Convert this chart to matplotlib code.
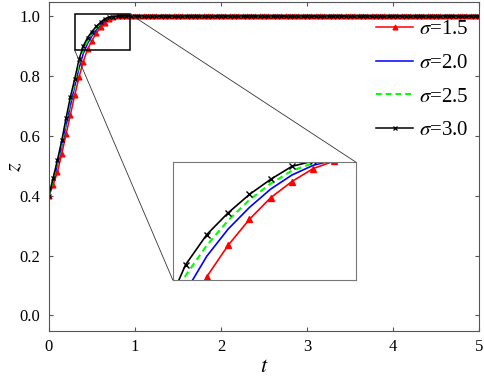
import numpy as np
import matplotlib.pyplot as plt
from matplotlib.patches import Rectangle, ConnectionPatch

plt.rcParams['font.family'] = 'serif'
plt.rcParams['font.serif'] = ['Liberation Serif', 'DejaVu Serif']
plt.rcParams['mathtext.fontset'] = 'stix'

# time grid, step 0.05 from 0 to 5
t = np.round(np.arange(0, 5.0001, 0.05), 2)

# values read for t = 0, 0.05, ..., 0.85; the curves sit at 1.0 after that
z_s15 = [0.400, 0.435, 0.480, 0.540, 0.605, 0.670, 0.735, 0.795, 0.848, 0.889,
         0.918, 0.942, 0.962, 0.977, 0.989, 0.996, 0.999, 1.000]
z_s20 = [0.400, 0.450, 0.505, 0.565, 0.635, 0.700, 0.765, 0.825, 0.875, 0.908,
         0.933, 0.953, 0.970, 0.983, 0.992, 0.997, 0.999, 1.000]
z_s25 = [0.400, 0.455, 0.513, 0.575, 0.648, 0.715, 0.778, 0.840, 0.890, 0.918,
         0.941, 0.960, 0.975, 0.987, 0.994, 0.997, 0.999, 1.000]
z_s30 = [0.400, 0.460, 0.520, 0.585, 0.660, 0.730, 0.790, 0.855, 0.900, 0.928,
         0.948, 0.965, 0.979, 0.991, 0.996, 0.998, 0.999, 1.000]
tail = [1.0] * (len(t) - len(z_s15))

labels = [r'$\sigma$=1.5', r'$\sigma$=2.0', r'$\sigma$=2.5', r'$\sigma$=3.0']
series = [z_s15 + tail, z_s20 + tail, z_s25 + tail, z_s30 + tail]
styles = [dict(color='#ff0000', ls='-', marker='^'),
          dict(color='#0000ff', ls='-', marker=None),
          dict(color='#00ff00', ls=(0, (3, 2)), marker=None),
          dict(color='black', ls='-', marker='x')]
widths = [1.1, 1.1, 1.4, 1.1]

fig = plt.figure(figsize=(4.84, 3.84), dpi=100)
ax = fig.add_axes([0.101, 0.138, 0.889, 0.857])

for z, lab, st, w in zip(series, labels, styles, widths):
    ax.plot(t, z, label=lab, lw=w, markersize=3.5, markeredgewidth=0.9, **st)

ax.set_xlim(0, 5)
ax.set_ylim(-0.052, 1.047)
ax.set_xticks([0, 1, 2, 3, 4, 5])
ax.set_yticks([0.0, 0.2, 0.4, 0.6, 0.8, 1.0])
ax.set_yticklabels(['0.0', '0.2', '0.4', '0.6', '0.8', '1.0'])
ax.tick_params(direction='in', length=3, top=True, right=True, labelsize=12,
               color='#555555', pad=6)
for s in ax.spines.values():
    s.set_color('#555555')
ax.set_xlabel('$t$', fontsize=16, labelpad=2)
ax.set_ylabel('$z$', fontsize=16, labelpad=-4)

ax.legend(loc='upper right', frameon=False, fontsize=15, handlelength=1.75,
          labelspacing=0.68, handletextpad=0.3, borderaxespad=0.0,
          bbox_to_anchor=(0.995, 0.972))

# zoom box on the main axes
box = (0.30, 0.886, 0.94, 1.007)
ax.add_patch(Rectangle((box[0], box[1]), box[2] - box[0], box[3] - box[1],
                       fill=False, ec='black', lw=1.1, zorder=5))

# inset
axins = fig.add_axes([0.357, 0.271, 0.378, 0.307])
for z, st, w in zip(series, styles, widths):
    axins.plot(t, z, lw=w + 0.1, markersize=5, markeredgewidth=1.0, **st)
axins.set_xlim(0.37, 0.80)
axins.set_ylim(0.886, 0.995)
axins.set_xticks([])
axins.set_yticks([])
for s in axins.spines.values():
    s.set_color('#777777')

for pa, pb in [((box[0], box[1]), (0, 0)), ((box[2], box[3]), (1, 1))]:
    con = ConnectionPatch(xyA=pa, coordsA='data', axesA=ax,
                          xyB=pb, coordsB='axes fraction', axesB=axins,
                          color='#333333', lw=0.6)
    fig.add_artist(con)

fig.savefig('out.png', dpi=100)
